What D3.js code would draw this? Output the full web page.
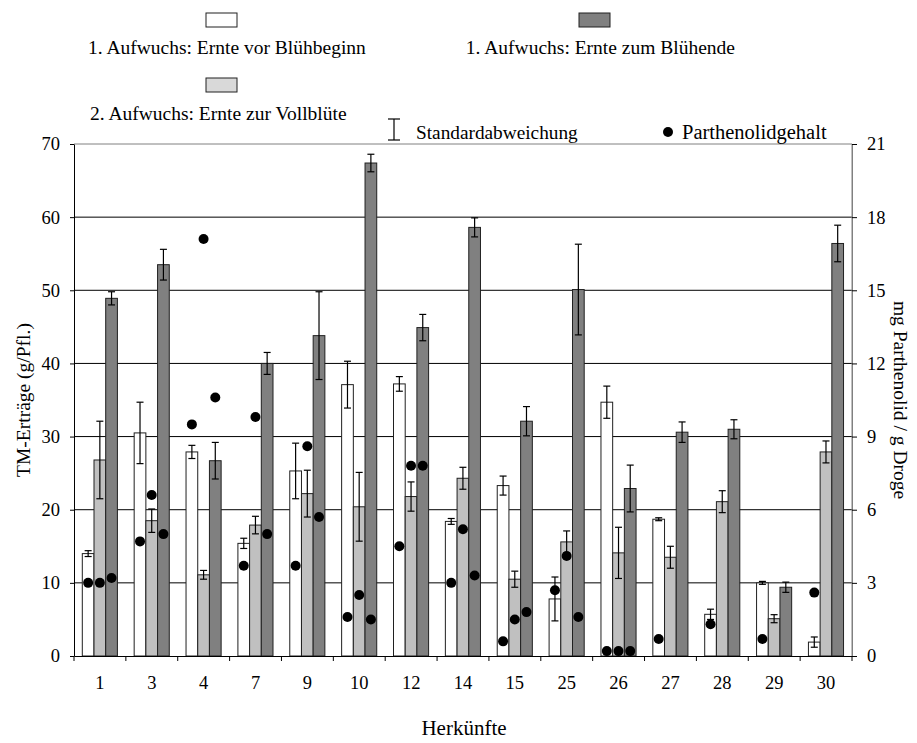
<!DOCTYPE html>
<html>
<head>
<meta charset="utf-8">
<script src="https://cdn.jsdelivr.net/npm/d3@7"></script>
<style>
  body { margin: 0; background: #fff; }
  svg text { font-family: "Liberation Serif", "Times New Roman", serif; fill: #000; }
</style>
</head>
<body>
<div id="chart"></div>
<script>
//Herkuenfte on the x axis
var categories = ["1", "3", "4", "7", "9", "10", "12", "14", "15", "25", "26", "27", "28", "29", "30"];

//series names and fills
var seriesNames = ["1. Aufwuchs: Ernte vor Blühbeginn", "2. Aufwuchs: Ernte zur Vollblüte", "1. Aufwuchs: Ernte zum Blühende"];
var seriesColors = ["#ffffff", "#c0c0c0", "#808080"];

//TM-Ertraege (g/Pfl.) per series
var vorBluehbeginn = [14.0, 30.5, 27.9, 15.4, 25.3, 37.1, 37.2, 18.4, 23.3, 7.8, 34.7, 18.7, 5.7, 10.0, 1.9];
var zurVollbluete  = [26.8, 18.5, 11.1, 17.9, 22.2, 20.4, 21.8, 24.3, 10.5, 15.6, 14.1, 13.5, 21.1, 5.1, 27.9];
var zumBluehende   = [48.9, 53.5, 26.7, 40.0, 43.8, 67.4, 44.9, 58.6, 32.1, 50.1, 22.9, 30.6, 31.0, 9.4, 56.4];

//standardabweichung per series
var vorBluehbeginnSd = [0.4, 4.2, 0.9, 0.7, 3.8, 3.2, 1.0, 0.4, 1.3, 3.0, 2.2, 0.2, 0.7, 0.2, 0.7];
var zurVollblueteSd  = [5.3, 1.6, 0.6, 1.2, 3.2, 4.7, 2.0, 1.5, 1.1, 1.5, 3.5, 1.5, 1.5, 0.55, 1.5];
var zumBluehendeSd   = [0.9, 2.1, 2.5, 1.5, 6.0, 1.2, 1.8, 1.3, 2.0, 6.2, 3.2, 1.4, 1.3, 0.7, 2.5];

//parthenolidgehalt (mg / g Droge), null where no point is shown
var parthVor  = [3.0, 4.7, 9.5, 3.7, 3.7, 1.6, 4.5, 3.0, 0.6, 2.7, 0.2, 0.7, 1.3, 0.7, 2.6];
var parthVoll = [3.0, 6.6, 17.1, 9.8, 8.6, 2.5, 7.8, 5.2, 1.5, 4.1, 0.2, null, null, null, null];
var parthEnde = [3.2, 5.0, 10.6, 5.0, 5.7, 1.5, 7.8, 3.3, 1.8, 1.6, 0.2, null, null, null, null];

var leftTicks = [0, 10, 20, 30, 40, 50, 60, 70];
var rightTicks = [0, 3, 6, 9, 12, 15, 18, 21];

var values = [vorBluehbeginn, zurVollbluete, zumBluehende];
var sds = [vorBluehbeginnSd, zurVollblueteSd, zumBluehendeSd];
var parth = [parthVor, parthVoll, parthEnde];

var width = 917, height = 743;
var plotLeft = 74, plotRight = 852, plotTop = 144, plotBottom = 656;

var svg = d3.select("#chart").append("svg")
  .attr("width", width)
  .attr("height", height);

var x = d3.scaleBand().domain(categories).range([plotLeft, plotRight]);
var inner = d3.scaleBand().domain([0, 1, 2]).range([8.3, 43.4]);
var y = d3.scaleLinear().domain([0, 70]).range([plotBottom, plotTop]);
var y2 = d3.scaleLinear().domain([0, 21]).range([plotBottom, plotTop]);

//gridlines
svg.append("g")
  .selectAll("line")
  .data(leftTicks.filter(function(d) { return d > 0 && d < 70; }))
  .enter().append("line")
  .attr("x1", plotLeft).attr("x2", plotRight)
  .attr("y1", function(d) { return y(d); })
  .attr("y2", function(d) { return y(d); })
  .attr("stroke", "#000")
  .attr("stroke-width", 1);

//plot frame top and right in grey
svg.append("path")
  .attr("d", "M" + plotLeft + "," + y(70) + "H" + plotRight + "V" + plotBottom)
  .attr("fill", "none")
  .attr("stroke", "#808080")
  .attr("stroke-width", 1);

//build flat list of bars
var bars = [];
categories.forEach(function(c, i) {
  for (var s = 0; s < 3; s++) {
    bars.push({cat: c, s: s, v: values[s][i], sd: sds[s][i], p: parth[s][i]});
  }
});

svg.append("g")
  .selectAll("rect")
  .data(bars)
  .enter().append("rect")
  .attr("x", function(d) { return x(d.cat) + inner(d.s); })
  .attr("y", function(d) { return y(d.v); })
  .attr("width", inner.bandwidth())
  .attr("height", function(d) { return y(0) - y(d.v); })
  .attr("fill", function(d) { return seriesColors[d.s]; })
  .attr("stroke", "#202020")
  .attr("stroke-width", 1);

//error bars
var err = svg.append("g").attr("stroke", "#000").attr("stroke-width", 1.2);
bars.forEach(function(d) {
  var cx = x(d.cat) + inner(d.s) + inner.bandwidth() / 2;
  var y1 = y(d.v + d.sd), y0 = y(d.v - d.sd);
  err.append("line").attr("x1", cx).attr("x2", cx).attr("y1", y1).attr("y2", y0);
  err.append("line").attr("x1", cx - 3.5).attr("x2", cx + 3.5).attr("y1", y1).attr("y2", y1);
  err.append("line").attr("x1", cx - 3.5).attr("x2", cx + 3.5).attr("y1", y0).attr("y2", y0);
});

//parthenolid points on the right axis
svg.append("g")
  .selectAll("circle")
  .data(bars.filter(function(d) { return d.p !== null; }))
  .enter().append("circle")
  .attr("cx", function(d) { return x(d.cat) + inner(d.s) + inner.bandwidth() / 2; })
  .attr("cy", function(d) { return y2(d.p); })
  .attr("r", 5)
  .attr("fill", "#000");

//left axis
var yAxis = svg.append("g")
  .attr("transform", "translate(" + plotLeft + ",0)")
  .call(d3.axisLeft(y).tickValues(leftTicks).tickSize(4).tickSizeOuter(0).tickPadding(10));
yAxis.selectAll("text").style("font-size", "18.5px").attr("font-family", null);

//right axis
var y2Axis = svg.append("g")
  .attr("transform", "translate(" + plotRight + ",0)")
  .call(d3.axisRight(y2).tickValues(rightTicks).tickSize(5).tickSizeOuter(0).tickPadding(10));
y2Axis.selectAll("text").style("font-size", "18.5px").attr("font-family", null);
y2Axis.select(".domain").attr("stroke", "#808080");

//x axis labels at band centres, ticks on band borders
var xAxis = svg.append("g")
  .attr("transform", "translate(0," + plotBottom + ")")
  .call(d3.axisBottom(x).tickSize(0).tickPadding(20));
xAxis.selectAll("text").style("font-size", "18.5px").attr("font-family", null);
xAxis.select(".domain").attr("stroke", "#000");

svg.append("g")
  .selectAll("line")
  .data(categories.concat(["end"]))
  .enter().append("line")
  .attr("x1", function(d) { return d === "end" ? plotRight : x(d); })
  .attr("x2", function(d) { return d === "end" ? plotRight : x(d); })
  .attr("y1", plotBottom)
  .attr("y2", plotBottom + 5)
  .attr("stroke", "#000");

//axis titles
svg.append("text")
  .attr("x", 464).attr("y", 735)
  .attr("text-anchor", "middle")
  .style("font-size", "21px")
  .text("Herkünfte");

svg.append("text")
  .attr("transform", "translate(30,400) rotate(-90)")
  .attr("text-anchor", "middle")
  .style("font-size", "19.5px")
  .text("TM-Erträge (g/Pfl.)");

svg.append("text")
  .attr("transform", "translate(894,400) rotate(90)")
  .attr("text-anchor", "middle")
  .style("font-size", "19.5px")
  .text("mg Parthenolid / g Droge");

//legend: boxes and labels
var legendBoxes = [[206, 13], [206, 78], [579, 13]];
var legendText = [[88, 54, "start"], [90, 120, "start"], [735, 54, "end"]];

[0, 1, 2].forEach(function(s) {
  svg.append("rect")
    .attr("x", legendBoxes[s][0]).attr("y", legendBoxes[s][1])
    .attr("width", 31).attr("height", 14)
    .attr("fill", s === 1 ? "#d9d9d9" : seriesColors[s])
    .attr("stroke", "#202020");
  svg.append("text")
    .attr("x", legendText[s][0]).attr("y", legendText[s][1])
    .attr("text-anchor", legendText[s][2])
    .style("font-size", "19.5px")
    .text(seriesNames[s]);
});

//standardabweichung marker
var sdg = svg.append("g").attr("stroke", "#000").attr("stroke-width", 1.2);
sdg.append("line").attr("x1", 394).attr("x2", 394).attr("y1", 119).attr("y2", 140);
sdg.append("line").attr("x1", 388).attr("x2", 400).attr("y1", 119).attr("y2", 119);
sdg.append("line").attr("x1", 388).attr("x2", 400).attr("y1", 140).attr("y2", 140);
svg.append("text")
  .attr("x", 416).attr("y", 139)
  .style("font-size", "19.3px")
  .text("Standardabweichung");

//parthenolid marker
svg.append("circle").attr("cx", 668).attr("cy", 132).attr("r", 5).attr("fill", "#000");
svg.append("text")
  .attr("x", 682).attr("y", 139)
  .style("font-size", "20.5px")
  .text("Parthenolidgehalt");
</script>
</body>
</html>
